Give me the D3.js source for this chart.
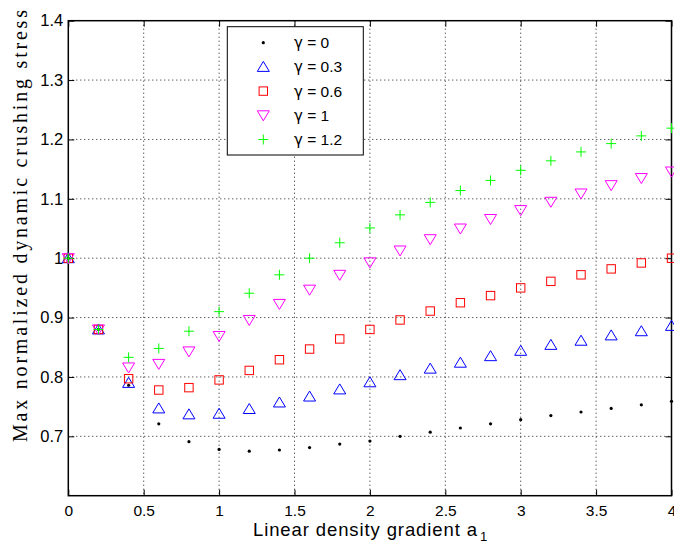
<!DOCTYPE html>
<html><head><meta charset="utf-8">
<script src="https://cdn.jsdelivr.net/npm/d3@7"></script>
<style>body{margin:0;background:#fff}svg{display:block}</style>
</head><body>
<svg id="c" width="674" height="544"></svg>
<script>
const xVals = [0,0.2,0.4,0.6,0.8,1.0,1.2,1.4,1.6,1.8,2.0,2.2,2.4,2.6,2.8,3.0,3.2,3.4,3.6,3.8,4.0];
const g0  = [1.0,0.88,0.786,0.721,0.691,0.678,0.675,0.677,0.681,0.687,0.692,0.700,0.707,0.714,0.721,0.728,0.735,0.741,0.747,0.753,0.759];
const g03 = [1.0,0.88,0.790,0.747,0.737,0.738,0.746,0.757,0.767,0.779,0.791,0.803,0.814,0.824,0.835,0.844,0.854,0.861,0.870,0.877,0.886];
const g06 = [1.0,0.88,0.797,0.778,0.782,0.795,0.811,0.829,0.847,0.864,0.880,0.896,0.911,0.925,0.937,0.950,0.961,0.972,0.982,0.992,1.000];
const g1  = [1.0,0.88,0.816,0.822,0.843,0.869,0.896,0.923,0.947,0.972,0.993,1.013,1.032,1.050,1.066,1.081,1.095,1.109,1.123,1.135,1.146];
const g12 = [1.0,0.88,0.833,0.848,0.877,0.910,0.941,0.972,1.000,1.026,1.051,1.073,1.094,1.114,1.131,1.148,1.164,1.179,1.193,1.206,1.219];
const gammaSymbol = "\u03b3";
const gammaValues = ["0","0.3","0.6","1","1.2"];
const xTicks = [0,0.5,1,1.5,2,2.5,3,3.5,4];
const xTickLabels = ["0","0.5","1","1.5","2","2.5","3","3.5","4"];
const yTicks = [0.7,0.8,0.9,1.0,1.1,1.2,1.3,1.4];
const yTickLabels = ["0.7","0.8","0.9","1","1.1","1.2","1.3","1.4"];
const xLabel = "Linear density gradient a";
const xLabelSub = "1";
const yLabel = "Max normalized dynamic crushing stress";

const series = [
  {value: gammaValues[0], values: g0,  color: "#000000", shape: "dot"},
  {value: gammaValues[1], values: g03, color: "#0000ff", shape: "tri"},
  {value: gammaValues[2], values: g06, color: "#ff0000", shape: "sq"},
  {value: gammaValues[3], values: g1,  color: "#ff00ff", shape: "dtri"},
  {value: gammaValues[4], values: g12, color: "#00ff00", shape: "plus"}
];

const L = 68.3, R = 671.5, T = 20.7, B = 495.7;
const svg = d3.select("#c");
const x = d3.scaleLinear().domain([0,4]).range([L,R]);
const y = d3.scaleLinear().domain([0.6,1.4]).range([B,T]);

// grid
const grid = svg.append("g").attr("stroke","#000").attr("stroke-width",0.9).attr("stroke-dasharray","1,3");
xTicks.slice(1,-1).forEach(t => grid.append("line").attr("x1",x(t)).attr("x2",x(t)).attr("y1",T).attr("y2",B));
yTicks.slice(0,-1).forEach(t => grid.append("line").attr("x1",L).attr("x2",R).attr("y1",y(t)).attr("y2",y(t)));

// axes
const font = "'Liberation Sans', Arial, sans-serif";
const ax = svg.append("g")
  .attr("transform",`translate(0,${B})`)
  .call(d3.axisBottom(x).tickValues(xTicks).tickFormat((d,i)=>xTickLabels[i]).tickSizeInner(-6).tickSizeOuter(0).tickPadding(9));
const ay = svg.append("g")
  .attr("transform",`translate(${L},0)`)
  .call(d3.axisLeft(y).tickValues(yTicks).tickFormat((d,i)=>yTickLabels[i]).tickSizeInner(-6).tickSizeOuter(0).tickPadding(5));
const axT = svg.append("g").attr("transform",`translate(0,${T})`)
  .call(d3.axisTop(x).tickValues(xTicks).tickFormat("").tickSizeInner(-6).tickSizeOuter(0));
const ayR = svg.append("g").attr("transform",`translate(${R},0)`)
  .call(d3.axisRight(y).tickValues(yTicks).tickFormat("").tickSizeInner(-6).tickSizeOuter(0));
[ax,ay,axT,ayR].forEach(a=>{
  a.select(".domain").remove();
  a.selectAll("line").attr("stroke","#000").attr("stroke-width",1);
  a.selectAll("text").attr("font-family",font).attr("font-size",16.5).attr("fill","#000");
});
ax.selectAll("text").attr("font-size",15.5);
svg.append("rect").attr("x",L).attr("y",T).attr("width",R-L).attr("height",B-T)
  .attr("fill","none").attr("stroke","#000").attr("stroke-width",1.5);

// markers
function marker(sel, shape, color, cx, cy){
  if(shape==="dot"){
    sel.append("circle").attr("cx",cx).attr("cy",cy).attr("r",1.6).attr("fill",color);
  } else if(shape==="tri"){
    sel.append("path").attr("d",`M${cx},${cy-5.5}L${cx+6},${cy+4.5}L${cx-6},${cy+4.5}Z`).attr("fill","none").attr("stroke",color).attr("stroke-width",1);
  } else if(shape==="dtri"){
    sel.append("path").attr("d",`M${cx},${cy+5.5}L${cx+6},${cy-4.5}L${cx-6},${cy-4.5}Z`).attr("fill","none").attr("stroke",color).attr("stroke-width",1);
  } else if(shape==="sq"){
    sel.append("rect").attr("x",cx-4.2).attr("y",cy-4.2).attr("width",8.4).attr("height",8.4).attr("fill","none").attr("stroke",color).attr("stroke-width",1);
  } else if(shape==="plus"){
    sel.append("path").attr("d",`M${cx-5},${cy}H${cx+5}M${cx},${cy-5}V${cy+5}`).attr("fill","none").attr("stroke",color).attr("stroke-width",1);
  }
}
const pts = svg.append("g");
series.forEach(s=>{
  const gs = pts.append("g");
  xVals.forEach((xv,i)=> marker(gs, s.shape, s.color, x(xv), y(s.values[i])));
});

// legend
const lg = svg.append("g");
lg.append("rect").attr("x",227.3).attr("y",26.7).attr("width",136).attr("height",128.3)
  .attr("fill","#fff").attr("stroke","#000").attr("stroke-width",1);
const rowY = d3.scalePoint().domain(gammaValues).range([42.7,139.5]);
series.forEach(s=>{
  const cy = rowY(s.value);
  marker(lg, s.shape, s.color, 263.3, cy);
  const t = lg.append("text").attr("x",294).attr("y",cy+5.5).attr("font-family",font).attr("font-size",15.5);
  t.append("tspan").attr("font-family","'DejaVu Sans',sans-serif").attr("font-size",15).text(gammaSymbol);
  t.append("tspan").text(" = " + s.value);
});

// axis labels
const xl = svg.append("text").attr("x",253).attr("y",536).attr("font-family",font).attr("font-size",18.5);
xl.append("tspan").text(xLabel).attr("textLength",224).attr("lengthAdjust","spacing");
xl.append("tspan").text(xLabelSub).attr("font-size",13).attr("dy",5).attr("dx",2);

svg.append("text").attr("transform","translate(27,226) rotate(-90)")
  .attr("text-anchor","middle").attr("font-family","'Liberation Serif','DejaVu Serif',serif")
  .attr("font-size",20).attr("textLength",432).attr("lengthAdjust","spacing").text(yLabel);
</script>
</body></html>
